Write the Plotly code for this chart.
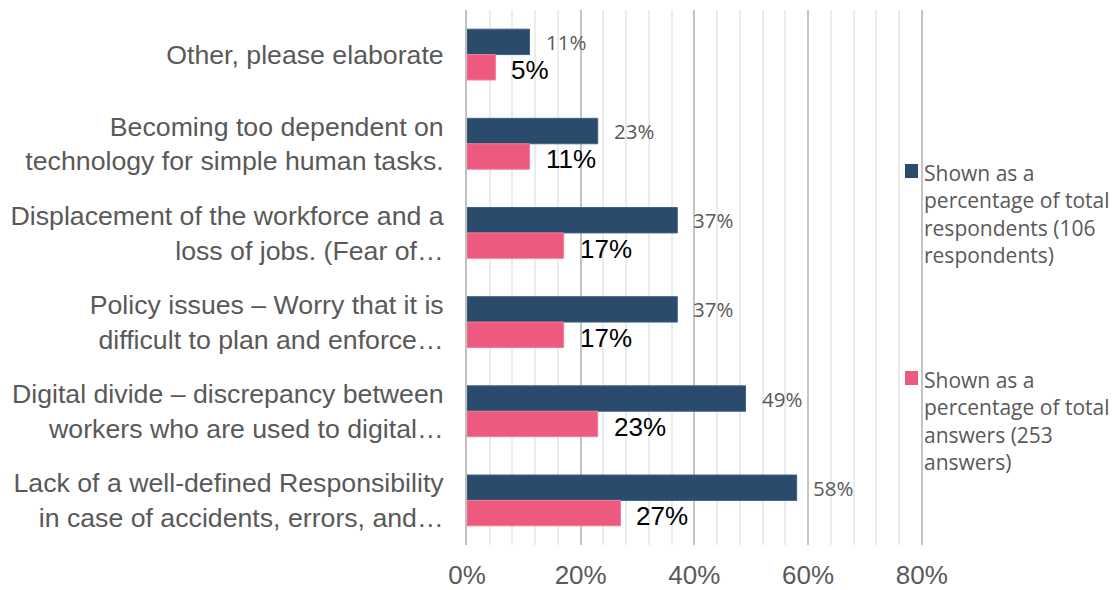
import plotly.graph_objects as go

# Concerns listed top to bottom
categories = [
    "Other, please elaborate",
    "Becoming too dependent on<br>technology for simple human tasks.",
    "Displacement of the workforce and a<br>loss of jobs. (Fear of…",
    "Policy issues – Worry that it is<br>difficult to plan and enforce…",
    "Digital divide – discrepancy between<br>workers who are used to digital…",
    "Lack of a well-defined Responsibility<br>in case of accidents, errors, and…",
]
pct_respondents = [11, 23, 37, 37, 49, 58]
pct_answers = [5, 11, 17, 17, 23, 27]
name_respondents = "Shown as a<br>percentage of total<br>respondents (106<br>respondents)"
name_answers = "Shown as a<br>percentage of total<br>answers (253<br>answers)"
x_ticks = [0, 20, 40, 60, 80]
x_ticktext = ["0%", "20%", "40%", "60%", "80%"]

BLUE = "#2a4b6c"
PINK = "#ee5a7f"
GREY_TEXT = "#595959"
BARGAP = 0.43
half = (1 - BARGAP) / 2 / 2  # offset of each bar's centre from the category centre

W, H = 1116, 590
M_L, M_R, M_T, M_B = 467, 192, 10, 45
PLOT_W = W - M_L - M_R
PLOT_H = H - M_T - M_B


def px_x(px):
    return (px - M_L) / PLOT_W


def px_y(py):
    return 1 - (py - M_T) / PLOT_H


ypos = list(range(len(categories)))

fig = go.Figure()
fig.add_trace(go.Bar(
    y=ypos, x=pct_respondents, orientation="h", name=name_respondents,
    marker=dict(color=BLUE, line=dict(color="#3f6287", width=1)),
))
fig.add_trace(go.Bar(
    y=ypos, x=pct_answers, orientation="h", name=name_answers,
    marker=dict(color=PINK, line=dict(color="#f27d9a", width=1)),
))

annotations = []
for i, (a, b) in enumerate(zip(pct_respondents, pct_answers)):
    annotations.append(dict(
        x=a, y=i - half, xref="x", yref="y", text=f"{a}%", showarrow=False,
        xanchor="left", yanchor="middle", xshift=14, yshift=0,
        font=dict(family="Open Sans", size=20.5, color=GREY_TEXT),
    ))
    annotations.append(dict(
        x=b, y=i + half, xref="x", yref="y", text=f"{b}%", showarrow=False,
        xanchor="left", yanchor="middle", xshift=14, yshift=-3,
        font=dict(family="Liberation Sans", size=26, color="#000000"),
    ))

# Legend drawn to the right of the bars: a swatch and a wrapped caption per series
shapes = []
legend_items = [(name_respondents, BLUE, 164), (name_answers, PINK, 371)]
for label, color, top in legend_items:
    shapes.append(dict(
        type="rect", xref="paper", yref="paper",
        x0=px_x(905), x1=px_x(918), y0=px_y(top), y1=px_y(top + 14),
        fillcolor=color, line=dict(width=0), layer="above",
    ))
    annotations.append(dict(
        x=px_x(922), y=px_y(top - 7), xref="paper", yref="paper",
        text=label, showarrow=False, align="left",
        xanchor="left", yanchor="top",
        font=dict(family="Open Sans", size=21, color=GREY_TEXT),
    ))

fig.update_layout(
    width=W, height=H,
    margin=dict(l=M_L, r=M_R, t=M_T, b=M_B),
    paper_bgcolor="white", plot_bgcolor="white",
    barmode="group", bargap=BARGAP, bargroupgap=0,
    showlegend=False,
    annotations=annotations,
    shapes=shapes,
    xaxis=dict(
        range=[0, 80.4], tickvals=x_ticks, ticktext=x_ticktext,
        showgrid=True, gridcolor="#c4c4c4", gridwidth=2,
        minor=dict(dtick=4, showgrid=True, gridcolor="#ececec", gridwidth=1.5),
        zeroline=False, showline=False, ticks="",
        ticklabelstandoff=12, automargin=False,
        tickfont=dict(family="Liberation Sans", size=26, color=GREY_TEXT),
    ),
    yaxis=dict(
        range=[len(categories) - 0.5, -0.5],
        tickvals=ypos, ticktext=categories,
        showgrid=False, zeroline=False,
        showline=True, linecolor="#bfbfbf", linewidth=2,
        ticks="", ticklabelstandoff=16, automargin=False,
        tickfont=dict(family="Liberation Sans", size=26.7, color=GREY_TEXT),
    ),
)

fig.write_html("out.html")
